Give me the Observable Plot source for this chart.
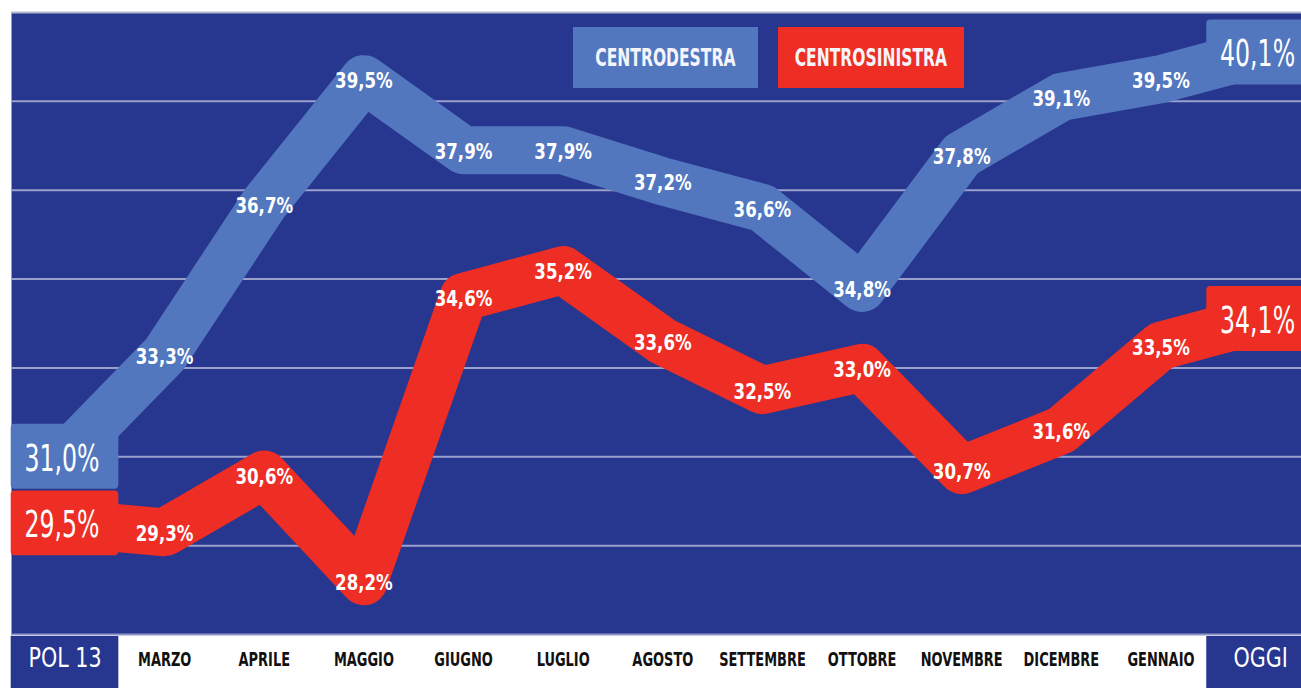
<!DOCTYPE html>
<html>
<head>
<meta charset="utf-8">
<script src="https://cdn.jsdelivr.net/npm/d3@7"></script>
<script src="https://cdn.jsdelivr.net/npm/@observablehq/plot@0.6"></script>
<style>
  html, body { margin: 0; padding: 0; background: #ffffff; }
  #wrap { position: relative; width: 1301px; height: 688px; overflow: hidden;
    font-family: "DejaVu Sans Condensed", "DejaVu Sans", sans-serif; }
  #legend { position: absolute; left: 573px; top: 27px; display: flex; gap: 20px; }
  #legend div { height: 61px; display: flex; align-items: center; justify-content: center;
    color: #f4f4fb; font-weight: bold; font-size: 24px; }
  #legend span { display: inline-block; transform: scaleX(0.72); white-space: nowrap; }
</style>
</head>
<body>
<div id="wrap">
  <div id="legend">
    <div style="width:185px;background:#5277be;"><span>CENTRODESTRA</span></div>
    <div style="width:186px;background:#ee2d24;"><span>CENTROSINISTRA</span></div>
  </div>
</div>
<script>
const categories = ["POL 13","MARZO","APRILE","MAGGIO","GIUGNO","LUGLIO","AGOSTO","SETTEMBRE","OTTOBRE","NOVEMBRE","DICEMBRE","GENNAIO","OGGI"];
const centrodestra = [31.0,33.3,36.7,39.5,37.9,37.9,37.2,36.6,34.8,37.8,39.1,39.5,40.1];
const centrosinistra = [29.5,29.3,30.6,28.2,34.6,35.2,33.6,32.5,33.0,30.7,31.6,33.5,34.1];
const gridValues = [29,31,33,35,37,39];
const seriesNames = ["Centrodestra","Centrosinistra"];
const colors = {Centrodestra: "#5277be", Centrosinistra: "#ee2d24"};

const data = [];
categories.forEach((c, i) => {
  data.push({cat: c, i, series: "Centrodestra", value: centrodestra[i]});
  data.push({cat: c, i, series: "Centrosinistra", value: centrosinistra[i]});
});
const last = categories.length - 1;
const isEnd = d => d.i === 0 || d.i === last;
const fmt = v => v.toFixed(1).replace(".", ",") + "%";
const ends = [categories[0], categories[last]];
const months = categories.slice(1, last);
const inner = data.filter(d => !isEnd(d));
const endData = data.filter(isEnd);

const font = "'DejaVu Sans Condensed', 'DejaVu Sans', sans-serif";

const chart = Plot.plot({
  width: 1301,
  height: 688,
  marginLeft: 11,
  marginRight: 0,
  marginTop: 12,
  marginBottom: 54,
  style: {fontFamily: font, background: "#ffffff"},
  x: {type: "band", domain: categories, range: [14.7, 1309.9], padding: 0, round: false, axis: null},
  y: {domain: [27, 41], axis: null},
  marks: [
    Plot.frame({fill: "#27368f"}),
    Plot.ruleY(gridValues, {stroke: "#9aa1cc", strokeWidth: 2}),
    Plot.ruleY([41], {stroke: "#b4b8d0", strokeWidth: 2}),
    Plot.ruleY([27], {stroke: "#8f97c6", strokeWidth: 2}),
    ...seriesNames.map(s => Plot.line(data.filter(d => d.series === s), {
      x: "cat", y: "value", stroke: colors[s], strokeWidth: 48,
      strokeLinejoin: "round", strokeLinecap: "butt"
    })),
    ...seriesNames.map(s => Plot.barY(endData.filter(d => d.series === s), {
      x: "cat", y1: d => d.value - 0.73, y2: d => d.value + 0.73,
      fill: colors[s], rx: 4, insetLeft: -4, insetRight: -4
    })),
    Plot.text(inner, {
      x: "cat", y: "value", text: d => fmt(d.value), fill: "#ffffff",
      fontSize: 22, fontWeight: "bold", dy: 2
    }),
    Plot.text(endData, {
      x: "cat", y: "value", text: d => fmt(d.value), fill: "#ffffff",
      fontSize: 37, dy: 2, dx: -3
    }),
    Plot.barY(ends, {
      x: d => d, y1: 27, y2: 27, fill: "#27368f",
      insetTop: 2, insetBottom: -54, insetLeft: -4, insetRight: -4
    }),
    Plot.text(months, {
      x: d => d, frameAnchor: "bottom", dy: 31, text: d => d,
      fill: "#111111", fontSize: 20, fontWeight: "bold"
    }),
    Plot.text(ends, {
      x: d => d, frameAnchor: "bottom", dy: 32, text: d => d,
      fill: "#ffffff", fontSize: 27
    })
  ]
});
document.getElementById("wrap").prepend(chart);

// condense the text glyphs horizontally (reference uses a narrow typeface)
const ratios = [0.84, 0.71, 0.72, 0.85];
chart.querySelectorAll('g[aria-label="text"]').forEach((g, k) => {
  const r = ratios[k] ?? 1;
  g.querySelectorAll("text").forEach(t => {
    const len = t.getComputedTextLength();
    t.setAttribute("textLength", (len * r).toFixed(1));
    t.setAttribute("lengthAdjust", "spacingAndGlyphs");
  });
});
</script>
</body>
</html>
